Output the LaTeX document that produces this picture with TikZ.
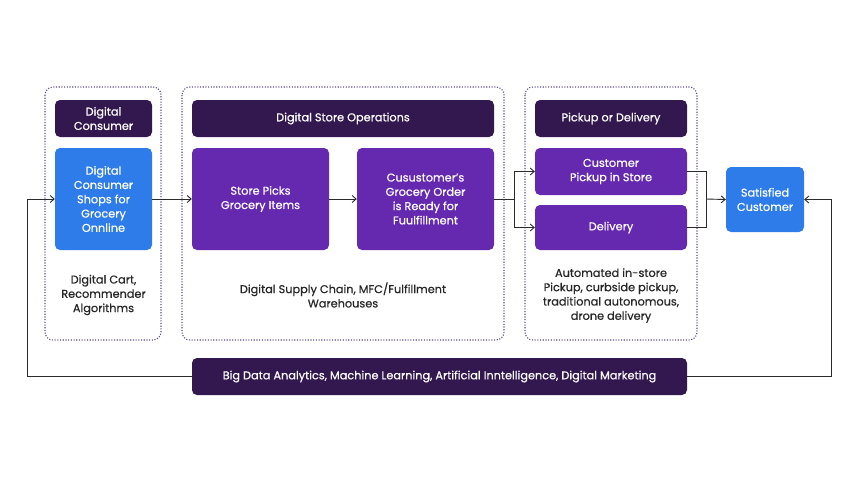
\documentclass[tikz,border=0pt]{standalone}
\usepackage{fontspec}
\setmainfont{Poppins}[FakeBold=0.6]
\usetikzlibrary{arrows.meta}
\definecolor{darkp}{HTML}{33174F}
\definecolor{midp}{HTML}{6529B0}
\definecolor{bluec}{HTML}{2D7CEA}
\definecolor{dotc}{HTML}{5E4B88}
\definecolor{linec}{HTML}{2A2A2A}
\tikzset{
  box/.style={rounded corners=5pt, text=white, align=center, font=\fontsize{11.3}{14.3}\selectfont, inner sep=0pt},
  header/.style={box, fill=darkp},
  purplebox/.style={box, fill=midp},
  bluebox/.style={box, fill=bluec},
  group/.style={draw=dotc, dash pattern=on 1.1pt off 1.6pt, line width=1.1pt, rounded corners=8pt},
  caption/.style={align=center, text=black!85, font=\fontsize{11.3}{14.3}\selectfont},
  conn/.style={draw=linec, line width=0.9pt, -{Straight Barb[length=4pt,width=7pt]}},
  plain/.style={draw=linec, line width=0.9pt}
}
\begin{document}
\begin{tikzpicture}[x=1pt,y=-1pt]
\useasboundingbox (0,0) rectangle (859,483);
% groups
\draw[group] (45,87) rectangle (161,340);
\draw[group] (182,87) rectangle (504,340);
\draw[group] (525,87) rectangle (697,340);
% column 1
\node[header, minimum width=97pt, minimum height=37pt] (h1) at (103.5,118.5) {Digital\\Consumer};
\node[bluebox, minimum width=97pt, minimum height=102pt] (shop) at (103.5,199) {Digital\\Consumer\\Shops for\\Grocery\\Onnline};
\node[caption] (c1) at (103.5,295) {Digital Cart,\\Recommender\\Algorithms};
% column 2
\node[header, minimum width=302pt, minimum height=37pt] (h2) at (343,118.5) {Digital Store Operations};
\node[purplebox, minimum width=137pt, minimum height=102pt] (pick) at (260.5,199) {Store Picks\\Grocery Items};
\node[purplebox, minimum width=137pt, minimum height=102pt] (ready) at (425.5,199) {Cusustomer’s\\Grocery Order\\is Ready for\\Fuulfillment};
\node[caption] (c2) at (343,295) {Digital Supply Chain, MFC/Fulfillment\\Warehouses};
% column 3
\node[header, minimum width=152pt, minimum height=37pt] (h3) at (611,118.5) {Pickup or Delivery};
\node[purplebox, minimum width=152pt, minimum height=47pt] (cpick) at (611,171.5) {Customer\\Pickup in Store};
\node[purplebox, minimum width=152pt, minimum height=45pt] (deliv) at (611,227.5) {Delivery};
\node[caption] (c3) at (611,295.5) {Automated in-store\\Pickup, curbside pickup,\\traditional autonomous,\\drone delivery};
% satisfied
\node[bluebox, minimum width=78pt, minimum height=65pt] (sat) at (765,199.5) {Satisfied\\Customer};
% bottom bar
\node[header, minimum width=495pt, minimum height=37pt] (bar) at (439.5,376.5) {Big Data Analytics, Machine Learning, Artificial Inntelligence, Digital Marketing};
% coordinates
\coordinate (split) at (514,199);
\coordinate (merge) at (706,199);
% connectors
\draw[conn] (shop.east) -- (pick.west);
\draw[conn] (pick.east) -- (ready.west);
\draw[plain] (ready.east) -- (split);
\draw[conn] (split) |- (cpick.west);
\draw[conn] (split) |- (deliv.west);
\draw[plain] (cpick.east) -| (merge);
\draw[plain] (deliv.east) -| (merge);
\draw[conn] (merge) -- (sat.west);
\draw[conn] (bar.west) -| (27,199) -- (shop.west);
\draw[conn] (bar.east) -| (831,199.5) -- (sat.east);
\end{tikzpicture}
\end{document}
